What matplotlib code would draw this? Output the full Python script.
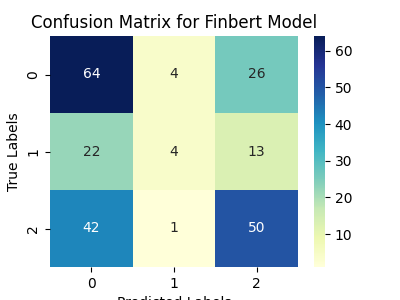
import numpy as np
import matplotlib
matplotlib.use('Agg')
import matplotlib.pyplot as plt
import seaborn as sns

labels = [0, 1, 2]
cm = np.array([[64, 4, 26],
               [22, 4, 13],
               [42, 1, 50]])

plt.figure(figsize=(4, 3), dpi=100)
sns.heatmap(cm, annot=True, fmt='d', cmap='YlGnBu', xticklabels=labels, yticklabels=labels)
plt.xlabel('Predicted Labels')
plt.ylabel('True Labels')
plt.title('Confusion Matrix for Finbert Model')
plt.savefig('out.png')
